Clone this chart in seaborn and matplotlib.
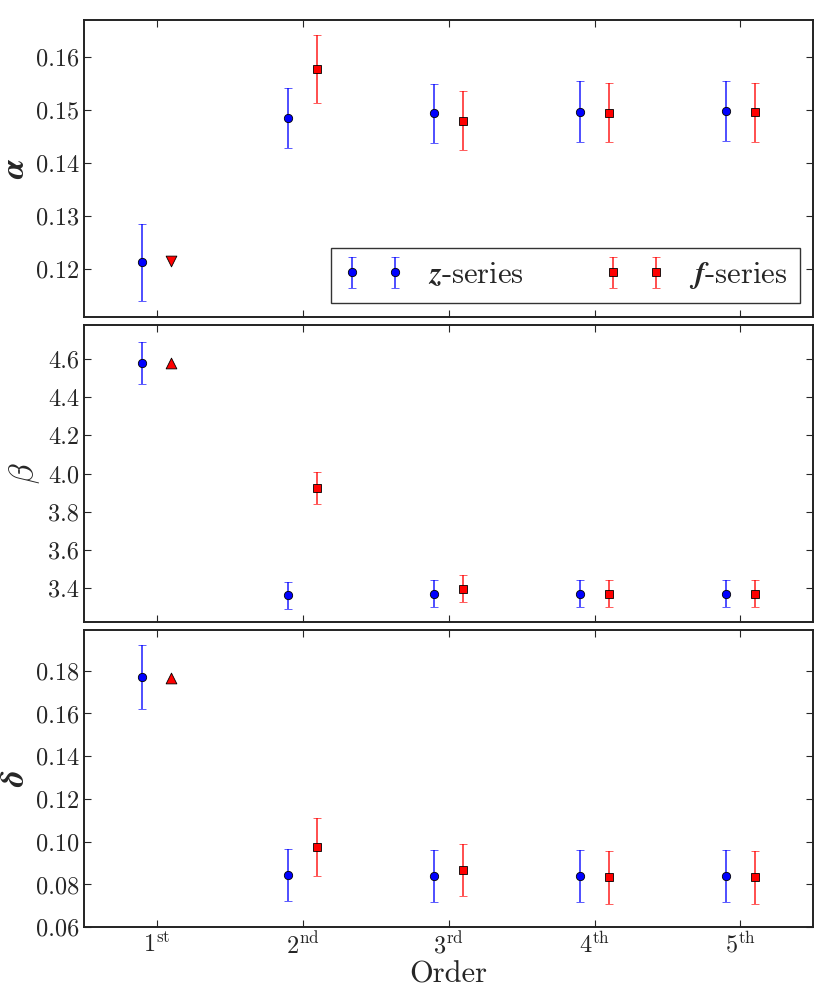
import matplotlib
matplotlib.use("Agg")
import matplotlib.pyplot as plt
import numpy as np
import seaborn as sns

# data
orders = [1, 2, 3, 4, 5]
order_labels = [r"1$^{\rm st}$", r"2$^{\rm nd}$", r"3$^{\rm rd}$", r"4$^{\rm th}$", r"5$^{\rm th}$"]

alpha_z = [0.1213, 0.1485, 0.1494, 0.1497, 0.1498]
alpha_z_err = [0.0073, 0.0056, 0.0056, 0.0057, 0.0057]
alpha_f = [0.1215, 0.1578, 0.1480, 0.1495, 0.1496]
alpha_f_err = [0.0, 0.0064, 0.0056, 0.0056, 0.0056]

beta_z = [4.58, 3.36, 3.37, 3.37, 3.37]
beta_z_err = [0.11, 0.07, 0.07, 0.07, 0.07]
beta_f = [4.58, 3.925, 3.395, 3.37, 3.37]
beta_f_err = [0.0, 0.083, 0.07, 0.07, 0.07]

delta_z = [0.1772, 0.0844, 0.0838, 0.0838, 0.0838]
delta_z_err = [0.015, 0.0122, 0.0122, 0.0122, 0.0122]
delta_f = [0.1768, 0.0974, 0.0866, 0.0833, 0.0833]
delta_f_err = [0.0, 0.0135, 0.0122, 0.0123, 0.0123]

sns.set_style("ticks")
plt.rcParams["font.family"] = ["cmr10"]
plt.rcParams["mathtext.fontset"] = "cm"
plt.rcParams["axes.formatter.use_mathtext"] = True
plt.rcParams["axes.unicode_minus"] = False

bar_kw = dict(mec="black", mew=0.6, ms=6, elinewidth=1.3, capsize=3, capthick=1.0)


def panel(ax, z, z_err, f, f_err, first_marker, ylabel, ylim):
    x = np.array(orders)
    ax.errorbar(x - 0.1, z, yerr=z_err, fmt="o", color="blue", ecolor=(0, 0, 1, 0.75),
                label=r"$\mathbfit{z}$-series", **bar_kw)
    ax.errorbar(x[1:] + 0.1, f[1:], yerr=f_err[1:], fmt="s", color="red",
                ecolor=(1, 0, 0, 0.75), label=r"$\mathbfit{f}$-series", **bar_kw)
    # first f-series value has no error bar
    sns.scatterplot(x=x[:1] + 0.1, y=f[:1], marker=first_marker, color="red",
                    edgecolor="black", linewidth=0.6, s=60, ax=ax, zorder=5, legend=False)
    ax.set_xlim(0.5, 5.5)
    ax.set_ylim(*ylim)
    ax.set_xticks(orders)
    ax.set_ylabel(ylabel, fontsize=24)
    ax.tick_params(direction="in", top=True, right=True, labelsize=17.5, length=5, width=0.8)
    for s in ax.spines.values():
        s.set_linewidth(1.4)
        s.set_color("#222222")


fig, axes = plt.subplots(3, 1, figsize=(8.3, 9.97), dpi=100, sharex=True)
panel(axes[0], alpha_z, alpha_z_err, alpha_f, alpha_f_err, "v", r"$\mathbfit{\alpha}$", (0.111, 0.167))
panel(axes[1], beta_z, beta_z_err, beta_f, beta_f_err, "^", r"$\beta$", (3.22, 4.78))
panel(axes[2], delta_z, delta_z_err, delta_f, delta_f_err, "^", r"$\mathbfit{\delta}$", (0.06, 0.199))

axes[0].set_yticks([0.12, 0.13, 0.14, 0.15, 0.16])
axes[1].set_yticks([3.4, 3.6, 3.8, 4.0, 4.2, 4.4, 4.6])
axes[2].set_yticks([0.06, 0.08, 0.10, 0.12, 0.14, 0.16, 0.18])
axes[0].yaxis.set_major_formatter(matplotlib.ticker.FormatStrFormatter("%.2f"))
axes[1].yaxis.set_major_formatter(matplotlib.ticker.FormatStrFormatter("%.1f"))
axes[2].yaxis.set_major_formatter(matplotlib.ticker.FormatStrFormatter("%.2f"))

axes[2].set_xticklabels(order_labels)
axes[2].set_xlabel("Order", fontsize=22, labelpad=2)

leg = axes[0].legend(loc="lower right", ncol=2, numpoints=2, fontsize=22, frameon=True,
                     fancybox=False, edgecolor="black", borderpad=0.4, columnspacing=2.6,
                     handletextpad=0.8, borderaxespad=0.45)
leg.get_frame().set_linewidth(1.0)

plt.subplots_adjust(left=0.101, right=0.98, top=0.98, bottom=0.07, hspace=0.027)
plt.savefig("out.png", dpi=100)
